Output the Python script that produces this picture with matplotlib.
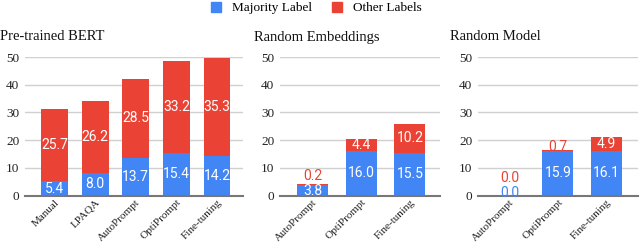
import matplotlib
matplotlib.use("Agg")
import matplotlib.pyplot as plt
from matplotlib.patches import Patch

BLUE = "#4285F4"
RED = "#EA4335"

titles = ["Pre-trained BERT", "Random Embeddings", "Random Model"]
cats_bert = ["Manual", "LPAQA", "AutoPrompt", "OptiPrompt", "Fine-tuning"]
maj_bert = [5.4, 8.0, 13.7, 15.4, 14.2]
oth_bert = [25.7, 26.2, 28.5, 33.2, 35.3]
cats_emb = ["AutoPrompt", "OptiPrompt", "Fine-tuning"]
maj_emb = [3.8, 16.0, 15.5]
oth_emb = [0.2, 4.4, 10.2]
cats_model = ["AutoPrompt", "OptiPrompt", "Fine-tuning"]
maj_model = [0.0, 15.9, 16.1]
oth_model = [0.0, 0.7, 4.9]
yticks = [0, 10, 20, 30, 40, 50]

panels = [
    (cats_bert, maj_bert, oth_bert),
    (cats_emb, maj_emb, oth_emb),
    (cats_model, maj_model, oth_model),
]

SERIF = ["Liberation Serif", "DejaVu Serif"]
SANS = ["Roboto", "DejaVu Sans"]

fig = plt.figure(figsize=(6.4, 2.46), dpi=100)
W, H = 640, 246
specs = [
    ((25, 243), (-0.725, 4.64), 0.66),
    ((280, 440), (-0.667, 2.62), 0.64),
    ((478, 638), (-0.656, 2.66), 0.64),
]
top_px, bot_px = 57, 195.5
axes = []
for (l, r), _, _ in specs:
    ax = fig.add_axes([l / W, 1 - bot_px / H, (r - l) / W, (bot_px - top_px) / H])
    axes.append(ax)

title_x = [0, 254, 450]
for ax, (cats, maj, oth), t, tx, spec in zip(axes, panels, titles, title_x, specs):
    _, xl, bw = spec
    x = list(range(len(cats)))
    ax.bar(x, maj, width=bw, color=BLUE, zorder=3)
    ax.bar(x, oth, bottom=maj, width=bw, color=RED, zorder=3)
    ax.set_xlim(*xl)
    ax.set_ylim(0, 50)
    ax.set_yticks(yticks)
    ax.set_yticklabels([str(v) for v in yticks], fontfamily=SERIF, fontsize=9.5, color="#222222")
    ax.set_xticks(x)
    ax.set_xticklabels(cats, rotation=45, ha="right", va="top", rotation_mode="anchor",
                       fontfamily=SERIF, fontsize=8, color="#222222")
    ax.tick_params(length=0, pad=4)
    ax.tick_params(axis="x", pad=1.5)
    ax.grid(axis="y", color="#d0d0d0", linewidth=1, zorder=0)
    for s in ["top", "right", "left"]:
        ax.spines[s].set_visible(False)
    ax.spines["bottom"].set_color("#777777")
    ax.spines["bottom"].set_linewidth(1.5)
    ax.spines["bottom"].set_zorder(4)
    fig.text(tx / W, 1 - 37 / H, t, fontfamily=SERIF, fontsize=10.5, va="center", ha="left", color="#111111")
    for i in x:
        m, o = maj[i], oth[i]
        if m >= 2:
            ax.text(i, m / 2 - (0.4 if m < 6 else 0), f"{m:.1f}", ha="center", va="center", color="white",
                    fontfamily=SANS, fontsize=10, zorder=5)
        else:
            ax.text(i, 0.9, f"{m:.1f}", ha="center", va="center", color=BLUE,
                    fontfamily=SANS, fontsize=10, zorder=5)
        if o >= 2:
            ax.text(i, m + o / 2, f"{o:.1f}", ha="center", va="center", color="white",
                    fontfamily=SANS, fontsize=10, zorder=5)
        else:
            if m < 2:
                off = 6.3
            elif m < 6:
                off = 3.0
            else:
                off = 1.0
            ax.text(i, m + o + off, f"{o:.1f}", ha="center", va="center", color=RED,
                    fontfamily=SANS, fontsize=10, zorder=5)

handles = [Patch(color=BLUE, label="Majority Label"), Patch(color=RED, label="Other Labels")]
fig.legend(handles=handles, loc="center", bbox_to_anchor=(316 / W, 1 - 8 / H), ncol=2,
           frameon=False, prop={"family": SERIF, "size": 9.5}, handlelength=0.8,
           handleheight=0.8, columnspacing=1.5, handletextpad=0.8)

fig.savefig("out.png", dpi=100)
